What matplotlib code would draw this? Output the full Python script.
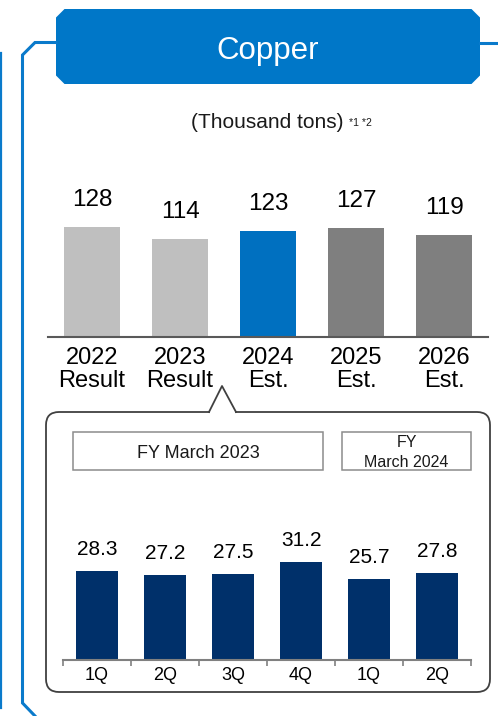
import matplotlib
matplotlib.use("Agg")
import matplotlib.pyplot as plt
from matplotlib.patches import Polygon, Rectangle, FancyBboxPatch
from matplotlib.lines import Line2D

plt.rcParams['font.family'] = ['Liberation Sans', 'DejaVu Sans']

# ---- data ----
title = "Copper"
unit_label = "(Thousand tons)"
unit_note = "*1 *2"
annual_labels = ["2022\nResult", "2023\nResult", "2024\nEst.", "2025\nEst.", "2026\nEst."]
annual_values = [128, 114, 123, 127, 119]
annual_colors = ["#BFBFBF", "#BFBFBF", "#0070C0", "#7F7F7F", "#7F7F7F"]
quarter_labels = ["1Q", "2Q", "3Q", "4Q", "1Q", "2Q"]
quarter_values = [28.3, 27.2, 27.5, 31.2, 25.7, 27.8]
fy_header_1 = "FY March 2023"
fy_header_2_top = "FY"
fy_header_2_bottom = "March 2024"

W, H = 498, 716
fig = plt.figure(figsize=(W / 100, H / 100), dpi=100)

def frac(x0, y_top, x1, y_bot):
    return [x0 / W, (H - y_bot) / H, (x1 - x0) / W, (y_bot - y_top) / H]

# ---- background / decoration axes (pixel coordinates) ----
bg = fig.add_axes([0, 0, 1, 1])
bg.set_xlim(0, W)
bg.set_ylim(H, 0)
bg.axis("off")

blue_box = "#0077C8"
blue_line = "#0A7ACB"

# frame lines
bg.add_line(Line2D([56, 35, 22.5, 22.5, 35], [42.5, 42.5, 55, 703, 716],
                   color=blue_line, lw=2.2, solid_joinstyle="miter"))
bg.add_line(Line2D([480, 498], [42.5, 42.5], color=blue_line, lw=2.2))
bg.add_line(Line2D([1.2, 1.2], [53, 708], color=blue_line, lw=1.6))

# header box with chamfered corners
c = 8.5
x0, x1, y0, y1 = 56, 480, 9, 84
bg.add_patch(Polygon([(x0 + c, y0), (x1 - c, y0), (x1, y0 + c), (x1, y1 - c),
                      (x1 - c, y1), (x0 + c, y1), (x0, y1 - c), (x0, y0 + c)],
                     closed=True, facecolor=blue_box, edgecolor="none"))
bg.text(268, 59, title, color="white", fontsize=22.5, ha="center", va="baseline")

# unit label
bg.text(267.5, 128, unit_label, fontsize=15, ha="center", va="baseline", color="#1a1a1a")
bg.text(349, 126, unit_note, fontsize=7.5, ha="left", va="baseline", color="#1a1a1a")

# callout box
border = "#404040"
bg.add_patch(FancyBboxPatch((46, 412), 444, 280,
                            boxstyle="round,pad=0,rounding_size=13",
                            facecolor="none", edgecolor=border, lw=1.3))
bg.add_patch(Rectangle((210, 409), 25, 6, facecolor="white", edgecolor="none", zorder=3))
bg.add_line(Line2D([209, 222, 236], [412, 386, 412], color=border, lw=1.3, zorder=4))

# FY header boxes
hdr = "#8C8C8C"
bg.add_patch(Rectangle((73, 432), 250, 38, facecolor="none", edgecolor=hdr, lw=1.1))
bg.add_patch(Rectangle((342, 432), 129, 38, facecolor="none", edgecolor=hdr, lw=1.1))
bg.text(198, 458, fy_header_1, fontsize=13, ha="center", va="baseline", color="#1a1a1a")
bg.text(406.5, 447, fy_header_2_top, fontsize=11.5, ha="center", va="baseline", color="#1a1a1a")
bg.text(406.5, 467, fy_header_2_bottom, fontsize=11.5, ha="center", va="baseline", color="#1a1a1a")

# ---- top annual chart ----
ax1 = fig.add_axes(frac(48, 180, 488, 337))
ax1.patch.set_alpha(0)
x1s = list(range(len(annual_values)))
ax1.bar(x1s, annual_values, width=0.636, color=annual_colors)
ax1.set_xlim(-0.5, len(annual_values) - 0.5)
ax1.set_ylim(0, 157 / 0.86)
for s in ["top", "left", "right"]:
    ax1.spines[s].set_visible(False)
ax1.spines["bottom"].set_color("#595959")
ax1.spines["bottom"].set_linewidth(1.5)
ax1.set_yticks([])
ax1.set_xticks(x1s)
ax1.set_xticklabels(annual_labels, fontsize=17, linespacing=1.02, color="black")
ax1.tick_params(axis="x", length=0, pad=7.5)
for i, v in enumerate(annual_values):
    ax1.annotate(str(v), (i, v), xytext=(0, 15), textcoords="offset points",
                 ha="center", va="baseline", fontsize=17.5, color="black")

# ---- bottom quarterly chart ----
ax2 = fig.add_axes(frac(63, 520, 471, 660))
ax2.patch.set_alpha(0)
x2s = list(range(len(quarter_values)))
ax2.bar(x2s, quarter_values, width=0.62, color="#00306A")
ax2.set_xlim(-0.5, len(quarter_values) - 0.5)
ax2.set_ylim(0, 140 / 3.14)
for s in ["top", "left", "right"]:
    ax2.spines[s].set_visible(False)
ax2.spines["bottom"].set_color("#808080")
ax2.spines["bottom"].set_linewidth(1.5)
ax2.set_yticks([])
ax2.set_xticks(x2s)
ax2.set_xticklabels(quarter_labels, fontsize=13, color="black")
ax2.set_xticks([i - 0.5 for i in range(len(quarter_values) + 1)], minor=True)
ax2.tick_params(axis="x", which="major", length=0, pad=5)
ax2.tick_params(axis="x", which="minor", length=4, width=1.2, color="#808080", direction="out")
for i, v in enumerate(quarter_values):
    ax2.annotate(f"{v:.1f}", (i, v), xytext=(0, 11.5), textcoords="offset points",
                 ha="center", va="baseline", fontsize=15, color="black")

fig.savefig("out.png", dpi=100)
